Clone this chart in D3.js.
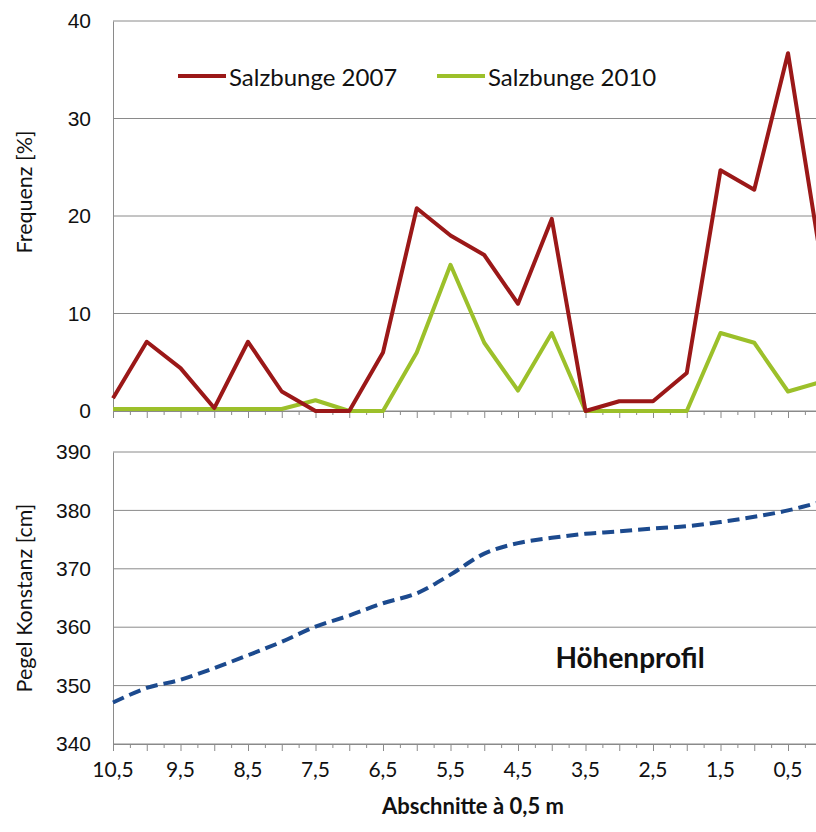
<!DOCTYPE html>
<html>
<head>
<meta charset="utf-8">
<script src="https://cdn.jsdelivr.net/npm/d3@7"></script>
<style>
    body { margin: 0; background: #fff; }
    svg { display: block; font-family: Lato, "Open Sans", sans-serif; }
    .grid line { stroke: #8a8a8a; stroke-width: 1; }
    .axis path, .axis line { stroke: #8a8a8a; }
    .axis text { font-size: 21px; fill: #111; }
</style>
</head>
<body>
<script>
//Abschnitte (x categories, metres)
var sections = [10.5, 10, 9.5, 9, 8.5, 8, 7.5, 7, 6.5, 6, 5.5, 5, 4.5, 4, 3.5, 3, 2.5, 2, 1.5, 1, 0.5, 0];
//labelled sections on the x axis
var sectionLabels = [10.5, 9.5, 8.5, 7.5, 6.5, 5.5, 4.5, 3.5, 2.5, 1.5, 0.5];

//Frequenz [%]
var salz2007 = [1.3, 7.1, 4.4, 0.3, 7.1, 2, 0, 0, 6, 20.8, 18, 16, 11, 19.7, 0, 1, 1, 3.9, 24.7, 22.7, 36.7, 15];
var salz2010 = [0.2, 0.2, 0.2, 0.2, 0.2, 0.2, 1.1, 0, 0, 6, 15, 7, 2.1, 8, 0, 0, 0, 0, 8, 7, 2, 3];

//Pegel Konstanz [cm]
var profil = [347.1, 349.6, 351, 353, 355.2, 357.5, 360.1, 362, 364.1, 365.8, 369, 372.6, 374.4, 375.3, 376, 376.4, 376.9, 377.3, 378, 378.9, 380, 381.5];

var freqTicks = [0, 10, 20, 30, 40];
var pegelTicks = [340, 350, 360, 370, 380, 390];

var width = 816,
    height = 832;

var svg = d3.select("body")
    .append("svg")
    .attr("width", width)
    .attr("height", height);

//shared x scale, last category lies just outside the picture
var x = d3.scaleLinear()
    .domain([10.5, 0])
    .range([113, 821.75]);

var fmt = function(d){ return String(d).replace(".", ","); };

//top panel
var yTop = d3.scaleLinear().domain([0, 40]).range([411, 21]);
//bottom panel
var yBot = d3.scaleLinear().domain([340, 390]).range([744, 452]);

function drawPanel(y, ticks, axisY, labelText, labelY){
    //grid lines
    svg.append("g")
        .attr("class", "grid")
        .selectAll("line")
        .data(ticks)
        .enter()
        .append("line")
        .attr("x1", x(10.5))
        .attr("x2", width)
        .attr("y1", function(d){ return y(d); })
        .attr("y2", function(d){ return y(d); });

    //y axis
    var yAxis = svg.append("g")
        .attr("class", "axis")
        .attr("transform", "translate(" + x(10.5) + ",0)")
        .call(d3.axisLeft(y).tickValues(ticks).tickSize(0).tickPadding(22));
    yAxis.select(".domain").attr("stroke", "#8a8a8a");

    //x axis: long ticks at each section, short ticks in between
    var minor = d3.range(0, 10.75, 0.25).filter(function(d){ return d % 0.5 !== 0; });
    svg.append("g")
        .attr("class", "axis")
        .attr("transform", "translate(0," + axisY + ")")
        .call(d3.axisBottom(x).tickValues(minor).tickSize(4).tickFormat(""))
        .select(".domain").remove();
    var xAxis = svg.append("g")
        .attr("class", "axis")
        .attr("transform", "translate(0," + axisY + ")")
        .call(d3.axisBottom(x).tickValues(sections).tickSize(7).tickFormat(""));
    xAxis.select(".domain").attr("d", "M" + x(10.5) + ",0.5H" + width);

    //axis title
    svg.append("text")
        .attr("transform", "translate(24," + labelY + ") rotate(-90)")
        .attr("text-anchor", "middle")
        .attr("dominant-baseline", "central")
        .style("font-size", "21.5px")
        .attr("fill", "#111")
        .text(labelText);
}

drawPanel(yTop, freqTicks, 411, "Frequenz [%]", 192);
drawPanel(yBot, pegelTicks, 744, "Pegel Konstanz [cm]", 598);

//x tick labels under bottom panel
svg.append("g")
    .selectAll("text")
    .data(sectionLabels)
    .enter()
    .append("text")
    .attr("x", function(d){ return x(d); })
    .attr("y", 768)
    .attr("text-anchor", "middle")
    .attr("dominant-baseline", "central")
    .style("font-size", "21px")
    .attr("fill", "#111")
    .text(fmt);

svg.append("text")
    .attr("x", 473)
    .attr("y", 805)
    .attr("text-anchor", "middle")
    .attr("dominant-baseline", "central")
    .style("font-size", "22px")
    .style("font-weight", "bold")
    .attr("fill", "#111")
    .text("Abschnitte à 0,5 m");

//frequency lines
var lineTop = function(vals){
    return d3.line()
        .x(function(d, i){ return x(sections[i]); })
        .y(function(d){ return yTop(d); })(vals);
};

var series = [
    {name: "Salzbunge 2010", values: salz2010, color: "#9cc02a", lx: 437},
    {name: "Salzbunge 2007", values: salz2007, color: "#9b1818", lx: 178}
];

svg.selectAll(".freq")
    .data(series)
    .enter()
    .append("path")
    .attr("class", "freq")
    .attr("d", function(d){ return lineTop(d.values); })
    .attr("fill", "none")
    .attr("stroke", function(d){ return d.color; })
    .attr("stroke-width", 4)
    .attr("stroke-linejoin", "round");

//legend
var legend = svg.selectAll(".legend")
    .data(series)
    .enter()
    .append("g")
    .attr("class", "legend");
legend.append("line")
    .attr("x1", function(d){ return d.lx; })
    .attr("x2", function(d){ return d.lx + 48; })
    .attr("y1", 76)
    .attr("y2", 76)
    .attr("stroke", function(d){ return d.color; })
    .attr("stroke-width", 4);
legend.append("text")
    .attr("x", function(d){ return d.lx + 51; })
    .attr("y", 76)
    .attr("dominant-baseline", "central")
    .style("font-size", "24px")
    .attr("fill", "#111")
    .text(function(d){ return d.name; });

//Hoehenprofil, smoothed dashed line
var lineBot = d3.line()
    .x(function(d, i){ return x(sections[i]); })
    .y(function(d){ return yBot(d); })
    .curve(d3.curveCatmullRom);

svg.append("path")
    .datum(profil)
    .attr("d", lineBot)
    .attr("fill", "none")
    .attr("stroke", "#1c4a8e")
    .attr("stroke-width", 4)
    .attr("stroke-dasharray", "12,6");

svg.append("text")
    .attr("x", 630)
    .attr("y", 657)
    .attr("text-anchor", "middle")
    .attr("dominant-baseline", "central")
    .style("font-size", "28px")
    .style("font-weight", "bold")
    .attr("fill", "#111")
    .text("Höhenprofil");
</script>
</body>
</html>
